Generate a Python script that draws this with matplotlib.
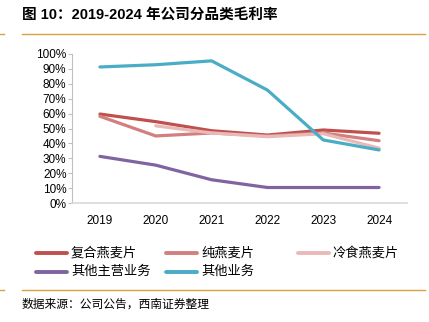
import matplotlib
matplotlib.use("Agg")
import matplotlib.pyplot as plt
from matplotlib.lines import Line2D

plt.rcParams['font.family'] = ['Liberation Sans', 'Noto Sans CJK SC', 'DejaVu Sans']

years = ['2019', '2020', '2021', '2022', '2023', '2024']
compound_oat = [59.7, 54.6, 48.5, 45.6, 49.0, 46.8]
pure_oat = [58.2, 45.0, 47.0, 45.0, 47.0, 41.8]
cold_oat = [None, 51.8, 47.0, 44.5, 46.5, 36.8]
other_main = [31.3, 25.4, 15.6, 10.4, 10.4, 10.4]
other_biz = [91.3, 92.8, 95.4, 75.8, 42.3, 35.6]

series_names = ['复合燕麦片', '纯燕麦片', '冷食燕麦片', '其他主营业务', '其他业务']
colors = ['#C0504D', '#D27F7D', '#E9B9B8', '#8064A2', '#4BACC6']

W, H = 429, 322
fig = plt.figure(figsize=(W / 100, H / 100), dpi=100)

# 坐标区 (像素位置换算)
ax = fig.add_axes([72 / W, (H - 203) / H, (407 - 72) / W, (203 - 54) / H])

x = list(range(len(years)))
data = [compound_oat, pure_oat, cold_oat, other_main, other_biz]
for vals, c in zip(data, colors):
    xs = [i for i, v in zip(x, vals) if v is not None]
    ys = [v for v in vals if v is not None]
    ax.plot(xs, ys, color=c, lw=2.3, solid_capstyle='round', solid_joinstyle='round')

ax.set_xlim(-0.5, 5.5)
ax.set_ylim(0, 100)
ax.set_yticks(range(0, 101, 10))
ax.set_yticklabels([f'{v}%' for v in range(0, 101, 10)], fontsize=8.5)
ax.set_xticks(x)
ax.set_xticklabels(years, fontsize=8.5)
ax.tick_params(axis='x', length=0, pad=9)
ax.tick_params(axis='y', length=3, width=0.8, color='#BFBFBF', pad=1)
for s in ['top', 'right']:
    ax.spines[s].set_visible(False)
ax.spines['left'].set_color('#BFBFBF')
ax.spines['bottom'].set_color('#D9D9D9')
ax.spines['bottom'].set_linewidth(1.2)

# 图例 (固定列宽, 按行排列)
col_x = [36, 166, 298]
row_y = [253, 272]
for k, (name, c) in enumerate(zip(series_names, colors)):
    px = col_x[k % 3]
    py = row_y[k // 3]
    fig.add_artist(Line2D([px / W, (px + 31) / W], [1 - py / H, 1 - py / H],
                          color=c, lw=2.8, solid_capstyle='round'))
    fig.text((px + 35) / W, 1 - py / H, name, fontsize=9.5, va='center', ha='left')

# 标题与分隔线
fig.text(22 / W, 1 - 15 / H, '图 10：2019-2024 年公司分品类毛利率', fontsize=10.5,
         fontweight='bold', va='center', ha='left')
line_col = '#D9A044'
for yy in [34, 290]:
    fig.add_artist(Line2D([22 / W, 425 / W], [1 - yy / H, 1 - yy / H], color=line_col, lw=1.0))
    fig.add_artist(Line2D([0, 4 / W], [1 - yy / H, 1 - yy / H], color=line_col, lw=1.0))

fig.text(22 / W, 1 - 305 / H, '数据来源：公司公告，西南证券整理', fontsize=8.5,
         va='center', ha='left', style='italic')

fig.savefig('out.png', dpi=100)
